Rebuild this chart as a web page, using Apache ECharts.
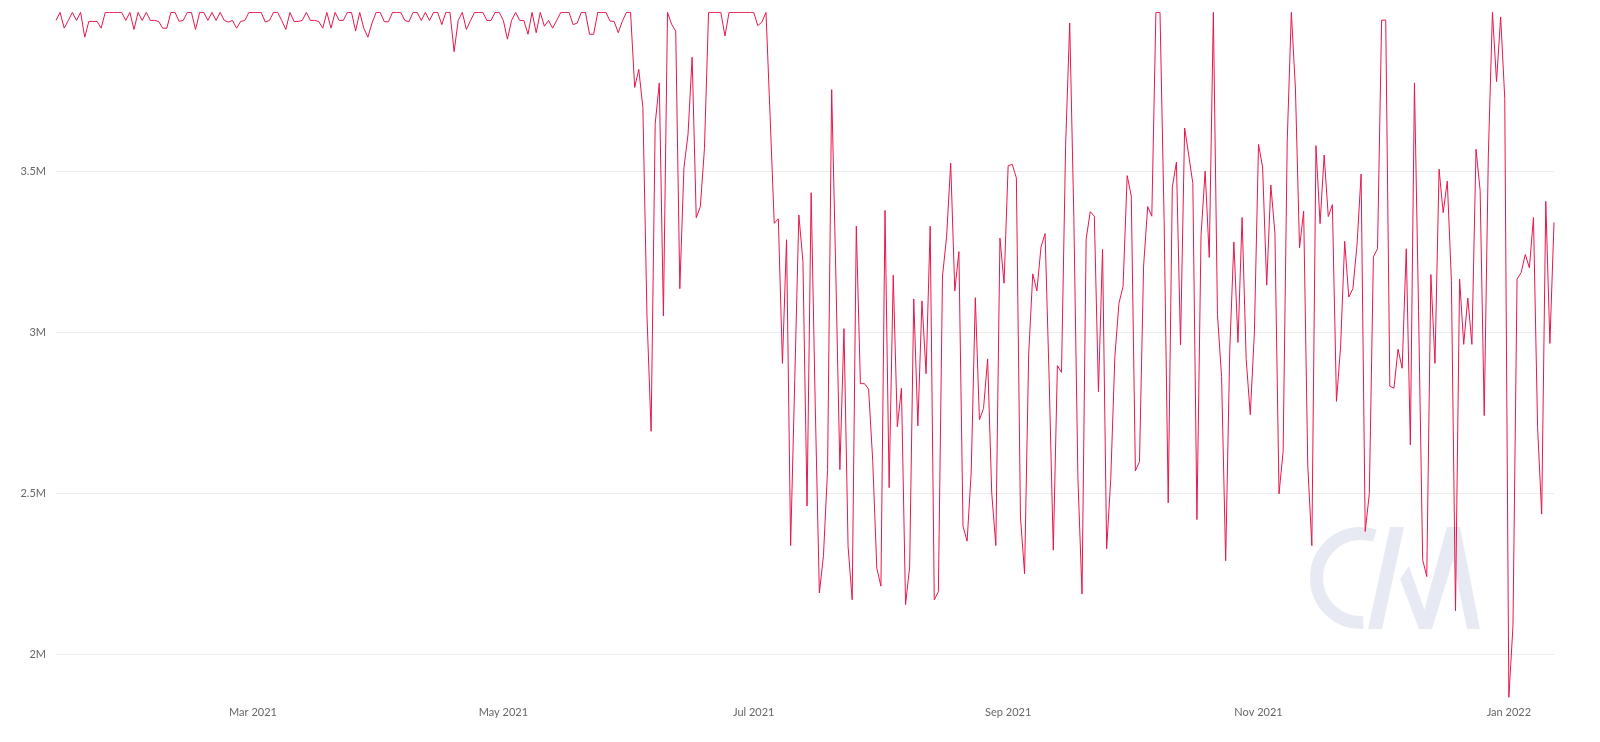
<!DOCTYPE html>
<html><head><meta charset="utf-8">
<script src="https://cdn.jsdelivr.net/npm/echarts@6/dist/echarts.min.js"></script>
<style>html,body{margin:0;padding:0;background:#fff}#c{width:1600px;height:742px}</style>
</head><body><div id="c"></div>
<script>
// Daily series, Jan 12 2021 .. Jan 12 2022, values in millions
const startDate = '2021-01-12';
const valuesPart1 = [
3.968,3.993,3.944,3.968,3.993,3.968,3.993,3.916,3.965,3.965,
3.965,3.944,3.993,3.993,3.993,3.993,3.993,3.968,3.993,3.940,
3.993,3.968,3.993,3.968,3.968,3.965,3.944,3.944,3.993,3.993,
3.965,3.968,3.993,3.993,3.940,3.993,3.993,3.968,3.993,3.968,
3.993,3.968,3.963,3.968,3.944,3.965,3.968,3.993,3.993,3.993,
3.993,3.963,3.968,3.993,3.993,3.968,3.940,3.993,3.965,3.965,
3.968,3.993,3.968,3.968,3.965,3.944,3.993,3.944,3.993,3.968,
3.968,3.993,3.993,3.935,3.993,3.944,3.916,3.960,3.993,3.993];
const valuesPart2 = [
3.964,3.964,3.993,3.993,3.993,3.968,3.964,3.993,3.993,3.968,
3.993,3.968,3.993,3.993,3.955,3.993,3.993,3.871,3.968,3.993,
3.940,3.968,3.993,3.993,3.993,3.968,3.968,3.993,3.993,3.968,
3.910,3.968,3.993,3.968,3.968,3.925,3.993,3.930,3.993,3.950,
3.968,3.944,3.968,3.993,3.993,3.993,3.955,3.960,3.993,3.993,
3.925,3.925,3.993,3.993,3.993,3.966,3.965,3.930,3.966,3.993,
3.993,3.760,3.816,3.697,3.050,2.692,3.647,3.774,3.050,3.993,
3.956,3.935,3.135,3.510,3.615,3.854,3.355,3.390,3.570,3.993];
const valuesPart3 = [
3.993,3.993,3.993,3.920,3.993,3.993,3.993,3.993,3.993,3.993,
3.993,3.952,3.963,3.993,3.670,3.338,3.352,2.903,3.287,2.337,
2.850,3.364,3.219,2.460,3.433,2.770,2.190,2.306,2.573,3.753,
3.190,2.573,3.011,2.334,2.169,3.329,2.840,2.840,2.823,2.601,
2.267,2.211,3.378,2.517,3.177,2.706,2.826,2.154,2.271,3.103,
2.709,3.097,2.871,3.329,2.169,2.194,3.174,3.296,3.525,3.128,
3.250,2.397,2.351,2.566,3.107,2.728,2.763,2.917,2.500,2.337,
3.292,3.152,3.517,3.521,3.479,2.426,2.250,2.931,3.181,3.128,
3.264,3.306,2.850,2.323,2.896,2.875,3.580,3.960,3.360,2.545,
2.187,3.289,3.374,3.360,2.815,3.257,2.327,2.545,2.924,3.090];
const valuesPart4 = [
3.142,3.486,3.423,2.569,2.598,3.205,3.390,3.360,3.993,3.993,
3.350,2.470,3.450,3.528,2.960,3.634,3.550,3.462,2.418,3.300,
3.500,3.232,3.993,3.055,2.862,2.290,2.945,3.280,2.968,3.356,
2.915,2.744,3.000,3.583,3.513,3.146,3.457,3.308,2.498,2.630,
3.594,3.993,3.755,3.262,3.376,2.587,2.337,3.579,3.337,3.550,
3.359,3.396,2.785,2.954,3.282,3.109,3.135,3.271,3.491,2.381,
2.499,3.234,3.259,3.969,3.969,2.832,2.826,2.947,2.888,3.259,
2.650,3.774,3.065,2.293,2.241,3.179,2.903,3.506,3.371,3.469,
3.160,2.135,3.165,2.962,3.106,2.962,3.568,3.440,2.741,3.550,
3.993,3.778,3.979,3.726,1.866,2.087,3.165,3.185,3.241,3.200,
3.356,2.704,2.435,3.406,2.965,3.341];
const labelMonths = [1, 3, 5, 7, 9, 11];
const monthNames = ['Jan','Feb','Mar','Apr','May','Jun','Jul','Aug','Sep','Oct','Nov','Dec'];

const values = [].concat(valuesPart1, valuesPart2, valuesPart3, valuesPart4);
const dates = [];
const d0 = new Date(startDate + 'T00:00:00Z');
for (let i = 0; i < values.length; i++) {
  const d = new Date(d0.getTime() + i * 86400000);
  dates.push(d.toISOString().slice(0, 10));
}

const chart = echarts.init(document.getElementById('c'), null, {renderer: 'canvas'});
const wm = '#e7eaf3';
chart.setOption({
  animation: false,
  backgroundColor: '#ffffff',
  grid: {left: 56, right: 46, top: 12.4, bottom: 44.7},
  xAxis: {
    type: 'category',
    data: dates,
    boundaryGap: false,
    axisLine: {show: false},
    axisTick: {show: false},
    splitLine: {show: false},
    axisLabel: {
      margin: 10,
      color: '#666666',
      fontFamily: 'Lato',
      fontSize: 11,
      interval: function (idx, val) {
        const m = parseInt(val.slice(5, 7), 10);
        return val.slice(8, 10) === '01' && labelMonths.indexOf(m) >= 0;
      },
      formatter: function (val) {
        return monthNames[parseInt(val.slice(5, 7), 10) - 1] + ' ' + val.slice(0, 4);
      }
    }
  },
  yAxis: {
    type: 'value',
    min: 'dataMin',
    max: 'dataMax',
    splitNumber: 5,
    axisLine: {show: false},
    axisTick: {show: false},
    axisLabel: {
      margin: 10,
      color: '#666666',
      fontFamily: 'Lato',
      fontSize: 11,
      showMinLabel: false,
      showMaxLabel: false,
      formatter: function (v) { return v + 'M'; }
    },
    splitLine: {show: true, showMinLine: false, showMaxLine: false, lineStyle: {color: '#ececec', width: 1}}
  },
  graphic: [
    {type: 'arc', z: 0, shape: {cx: 1361, cy: 578, r: 44.5, startAngle: 87 * Math.PI / 180, endAngle: 288 * Math.PI / 180, clockwise: true},
     style: {stroke: wm, lineWidth: 13, fill: null}},
    {type: 'polygon', z: 0, shape: {points: [[1368,629],[1382,629],[1404,527],[1390,527]]}, style: {fill: wm}},
    {type: 'polygon', z: 0, shape: {points: [[1400,579],[1409,566],[1431,629],[1419,629]]}, style: {fill: wm}},
    {type: 'polygon', z: 0, shape: {points: [[1419,629],[1447,527],[1460,527],[1480,629],[1467,629],[1453,560],[1432,629]]}, style: {fill: wm}}
  ],
  series: [{
    type: 'line',
    data: values,
    showSymbol: false,
    symbol: 'none',
    z: 3,
    lineStyle: {color: '#e8174c', width: 1},
    itemStyle: {color: '#e8174c'}
  }]
});
</script></body></html>
